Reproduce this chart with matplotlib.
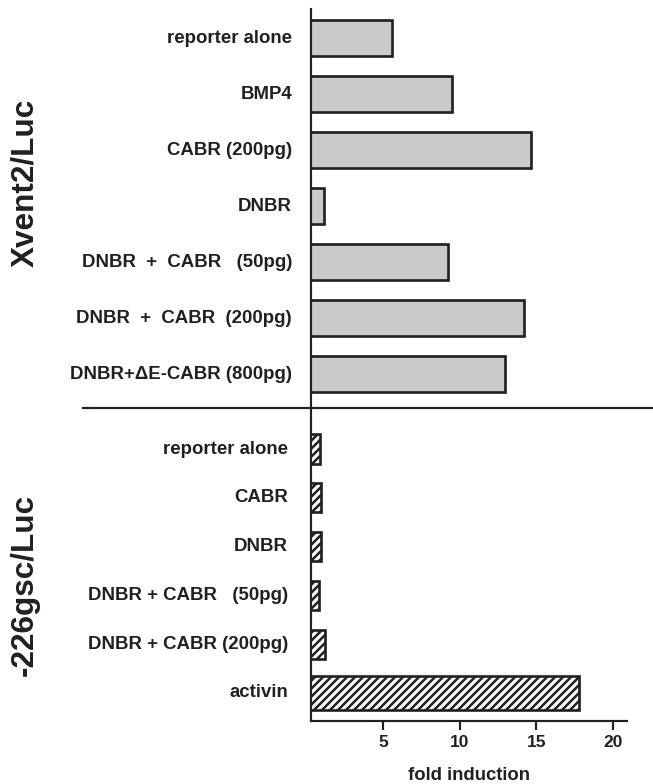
import matplotlib
matplotlib.use("Agg")
import matplotlib.pyplot as plt
import matplotlib.transforms as mtransforms
import numpy as np

# top group: Xvent2/Luc
top_labels = ["reporter alone", "BMP4", "CABR (200pg)", "DNBR",
              "DNBR  +  CABR   (50pg)", "DNBR  +  CABR  (200pg)",
              "DNBR+\u0394E-CABR (800pg)"]
top_values = [5.6, 9.5, 14.65, 1.15, 9.25, 14.2, 12.95]

# bottom group: -226gsc/Luc
bot_labels = ["reporter alone", "CABR", "DNBR", "DNBR + CABR   (50pg)",
              "DNBR + CABR (200pg)", "activin"]
bot_values = [0.9, 0.95, 0.95, 0.83, 1.2, 17.8]

xticks = [5, 10, 15, 20]

ink = "#231f20"
gray = "#c9cacc"
DPI = 120

plt.rcParams["font.family"] = ["Liberation Sans", "DejaVu Sans"]
plt.rcParams["font.weight"] = "bold"
plt.rcParams["hatch.linewidth"] = 1.5
plt.rcParams["hatch.color"] = ink

fig = plt.figure(figsize=(653 / DPI, 784 / DPI), dpi=DPI)
ax = fig.add_axes([311 / 653, 1 - 721 / 784, (627 - 311) / 653, (721 - 9) / 784])

top_y = np.arange(len(top_values))
bot_y = 7.34 + 0.871 * np.arange(len(bot_values))
bot_h = [0.52] * 5 + [0.62]

ax.barh(top_y, top_values, height=0.643, color=gray, edgecolor=ink, linewidth=1.6)
ax.barh(bot_y, bot_values, height=bot_h, color="white", edgecolor=ink,
        linewidth=1.6, hatch="/////")

ax.set_xlim(0.3, 20.9)
ax.set_ylim(12.196, -0.518)

for s in ["top", "right"]:
    ax.spines[s].set_visible(False)
for s in ["left", "bottom"]:
    ax.spines[s].set_linewidth(1.3)
    ax.spines[s].set_color(ink)

ax.set_yticks([])
ax.set_xticks(xticks)
ax.set_xticklabels([str(t) for t in xticks], fontsize=10.4, fontweight="bold", color=ink)
ax.tick_params(axis="x", direction="out", length=5.4, width=1.3, color=ink, pad=3)
ax.set_xlabel("fold induction", fontsize=11.1, fontweight="bold", color=ink, labelpad=10)

ytr = ax.get_yaxis_transform()
for y, lab in zip(top_y, top_labels):
    ax.text(-0.060, y, lab, transform=ytr, ha="right", va="center",
            fontsize=11.2, fontweight="bold", color=ink)
for y, lab in zip(bot_y, bot_labels):
    ax.text(-0.073, y, lab, transform=ytr, ha="right", va="center",
            fontsize=11.2, fontweight="bold", color=ink)

# separator between the two reporter groups
sep = mtransforms.blended_transform_factory(fig.transFigure, ax.transData)
ax.plot([83 / 653, 1.0], [6.607, 6.607], transform=sep, color=ink,
        linewidth=1.3, clip_on=False)

fig.text(25 / 653, 1 - 183 / 784, "Xvent2/Luc", rotation=90, ha="center",
         va="center", fontsize=18.9, fontweight="bold", color=ink)
fig.text(25 / 653, 1 - 585 / 784, "-226gsc/Luc", rotation=90, ha="center",
         va="center", fontsize=18.9, fontweight="bold", color=ink)

fig.savefig("out.png", dpi=DPI)
